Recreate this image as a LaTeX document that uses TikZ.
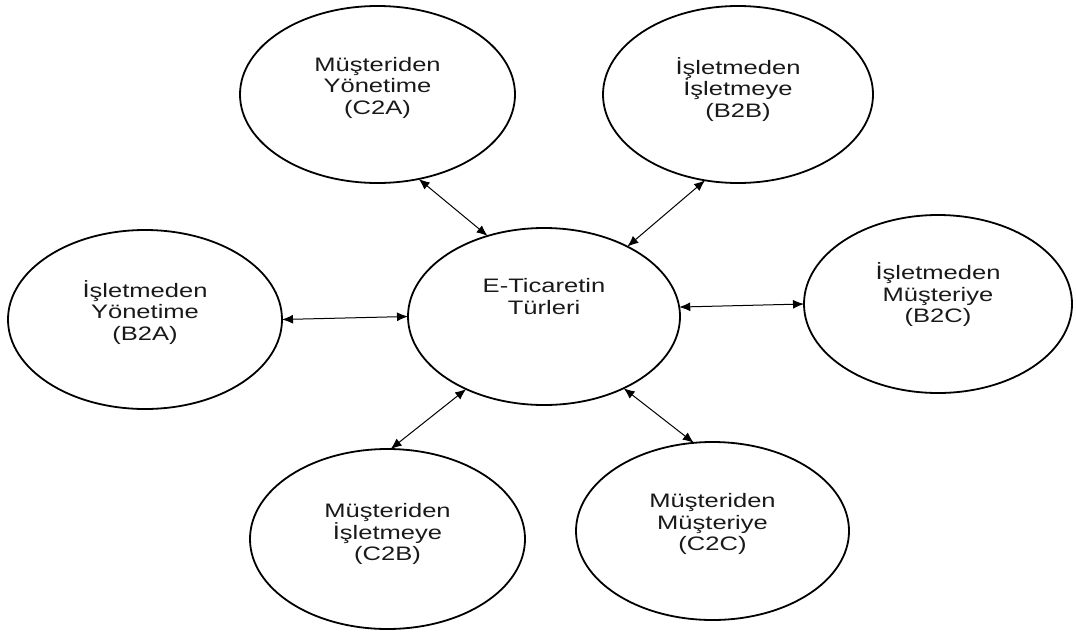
\documentclass[tikz,border=0pt]{standalone}
\usepackage{fontspec}
\setmainfont[FakeStretch=1.31]{Liberation Sans}
\usetikzlibrary{arrows.meta,shapes.geometric}
\begin{document}
\begin{tikzpicture}[x=1pt,y=-1pt,
  oval/.style={draw=black,line width=1.8pt,ellipse,inner sep=0pt,outer sep=0pt},
  lbl/.style={align=center,inner sep=0pt,font=\fontsize{19.5}{21.5}\selectfont,text=black!90},
  arr/.style={line width=1pt,{Latex[length=11pt,width=9pt]}-{Latex[length=11pt,width=9pt]}}]
\useasboundingbox (0,0) rectangle (1076,632);
% ellipses
\node[oval,minimum width=275pt,minimum height=177pt] (c2a) at (377.5,94.5) {};
\node[oval,minimum width=270pt,minimum height=177pt] (b2b) at (738,94.5) {};
\node[oval,minimum width=274pt,minimum height=179pt] (b2a) at (145,319.5) {};
\node[oval,minimum width=272pt,minimum height=177pt] (ctr) at (544,316.5) {};
\node[oval,minimum width=268pt,minimum height=178pt] (b2c) at (938,304) {};
\node[oval,minimum width=275pt,minimum height=180pt] (c2b) at (387.5,539) {};
\node[oval,minimum width=273pt,minimum height=178pt] (c2c) at (712.5,531) {};
% labels
\node[lbl] (c2a-t) at ([yshift=7pt]c2a.center) {Müşteriden\\Yönetime\\(C2A)};
\node[lbl] (b2b-t) at ([yshift=5pt]b2b.center) {İşletmeden\\İşletmeye\\(B2B)};
\node[lbl] (b2a-t) at ([yshift=7pt]b2a.center) {İşletmeden\\Yönetime\\(B2A)};
\node[lbl] (ctr-t) at ([yshift=20pt]ctr.center) {E-Ticaretin\\Türleri};
\node[lbl] (b2c-t) at ([yshift=9pt]b2c.center) {İşletmeden\\Müşteriye\\(B2C)};
\node[lbl] (c2b-t) at ([yshift=5pt]c2b.center) {Müşteriden\\İşletmeye\\(C2B)};
\node[lbl] (c2c-t) at ([yshift=7pt]c2c.center) {Müşteriden\\Müşteriye\\(C2C)};
% connectors
\draw[arr] (c2a.-64.3) -- (ctr.125.2);
\draw[arr] (b2b.-111.1) -- (ctr.40.4);
\draw[arr] (b2a.0) -- (ctr.180);
\draw[arr] (ctr.4) -- (b2c.180);
\draw[arr] (ctr.-137.4) -- (c2b.88.4);
\draw[arr] (ctr.-42.3) -- (c2c.102.6);
\end{tikzpicture}
\end{document}
